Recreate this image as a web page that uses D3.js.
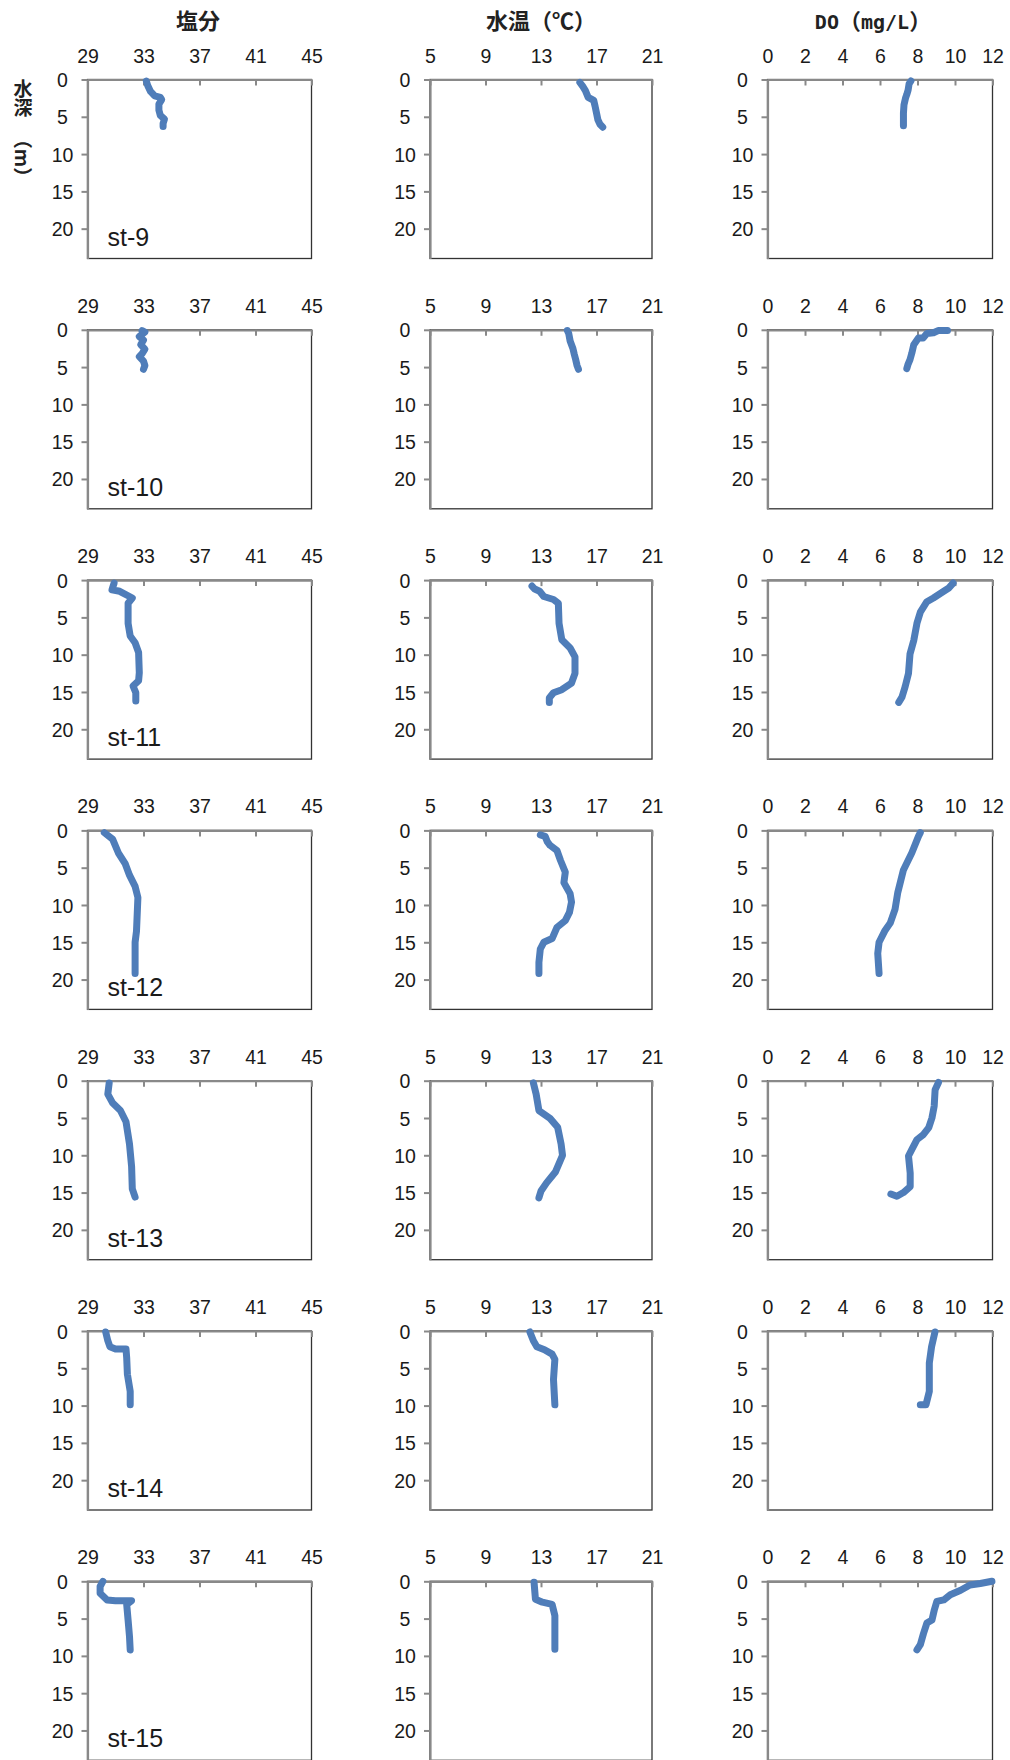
<!DOCTYPE html>
<html>
<head>
<meta charset="utf-8">
<script src="https://cdn.jsdelivr.net/npm/d3@7"></script>
<style>
  body { margin: 0; background: #fff; }
  text { font-family: "Liberation Sans", Arial, sans-serif; }
  .title { font-family: "Noto Sans CJK JP", sans-serif; font-weight: bold; }
  .mono { font-family: "DejaVu Sans Mono", monospace; font-weight: bold; }
</style>
</head>
<body>
<div class="container"></div>
<script>
// station names, one per row
const stations = ["st-9", "st-10", "st-11", "st-12", "st-13", "st-14", "st-15"];

// axis ticks
const salTicks = [29, 33, 37, 41, 45];
const tempTicks = [5, 9, 13, 17, 21];
const doTicks = [0, 2, 4, 6, 8, 10, 12];
const depthTicks = [0, 5, 10, 15, 20];

// [value, depth(m)]
const sal9 = [[33.2,0.2],[33.3,0.8],[33.5,1.6],[33.8,2.2],[34.2,2.4],[34.3,2.7],[34.1,3.3],[34.1,4.1],[34.2,4.8],[34.5,5.3],[34.4,5.9],[34.4,6.3]];
const temp9 = [[15.8,0.4],[16.0,0.9],[16.2,1.5],[16.4,2.4],[16.8,2.8],[16.9,3.6],[17.0,4.5],[17.1,5.4],[17.25,6.0],[17.45,6.4]];
const do9 = [[7.65,0.2],[7.55,0.6],[7.5,1.4],[7.43,2.0],[7.36,2.5],[7.28,3.4],[7.25,4.5],[7.25,5.4],[7.25,6.2]];

const sal10 = [[32.9,0.1],[33.1,0.3],[32.7,0.9],[33.0,1.4],[32.8,2.0],[33.1,2.6],[32.9,3.2],[32.7,3.6],[33.0,4.2],[33.1,4.8],[33.0,5.3]];
const temp10 = [[14.9,0.1],[15.0,0.5],[15.1,1.5],[15.3,2.5],[15.4,3.3],[15.5,4.0],[15.6,4.8],[15.7,5.3]];
const do10 = [[9.6,0.1],[9.1,0.1],[8.85,0.4],[8.5,0.5],[8.3,1.1],[8.05,1.1],[7.8,2.0],[7.7,3.1],[7.6,4.0],[7.5,4.6],[7.43,5.2]];

const sal11 = [[30.9,0.4],[30.75,1.3],[31.3,1.5],[32.0,2.2],[32.2,2.4],[31.9,3.1],[31.9,5.8],[32.05,7.5],[32.4,8.4],[32.65,9.7],[32.7,12.4],[32.65,13.5],[32.25,14.2],[32.45,15.1],[32.45,16.2]];
const temp11 = [[12.35,0.8],[12.55,1.2],[12.9,1.5],[13.2,2.2],[13.9,2.6],[14.25,3.1],[14.3,5.8],[14.5,8.0],[15.1,9.1],[15.45,10.3],[15.45,12.5],[15.2,13.8],[14.5,14.7],[13.9,15.1],[13.6,15.8],[13.6,16.4]];
const do11 = [[9.9,0.4],[9.65,1.1],[9.4,1.5],[8.85,2.4],[8.5,2.9],[8.15,4.3],[7.97,5.8],[7.8,8.1],[7.6,9.9],[7.52,12.5],[7.34,14.3],[7.17,15.7],[7.0,16.4]];

const sal12 = [[30.2,0.3],[30.8,1.2],[31.2,3.0],[31.7,4.5],[32.0,6.0],[32.4,7.5],[32.6,9.0],[32.5,13.5],[32.4,15.0],[32.4,19.2]];
const temp12 = [[12.95,0.6],[13.3,0.8],[13.45,1.5],[13.65,2.0],[14.15,2.7],[14.4,4.0],[14.75,5.6],[14.65,7.0],[15.1,8.5],[15.2,9.6],[15.05,11.0],[14.75,12.1],[14.15,13.0],[13.8,14.5],[13.2,15.0],[12.95,15.9],[12.85,17.7],[12.85,19.2]];
const do12 = [[8.15,0.3],[8.05,0.8],[7.7,3.0],[7.25,5.3],[6.95,8.3],[6.8,10.6],[6.55,12.4],[6.25,13.5],[5.95,15.0],[5.88,16.5],[5.95,19.2]];

const sal13 = [[30.55,0.3],[30.45,1.8],[30.8,3.0],[31.35,4.0],[31.75,5.5],[32.0,8.5],[32.15,11.5],[32.2,14.5],[32.4,15.6]];
const temp13 = [[12.45,0.3],[12.65,1.8],[12.85,4.0],[13.65,5.05],[14.2,6.25],[14.45,8.5],[14.55,10.0],[14.05,12.2],[13.4,13.7],[13.0,14.8],[12.85,15.7]];
const do13 = [[9.12,0.24],[8.94,1.2],[8.89,3.4],[8.77,5.0],[8.6,6.3],[8.32,7.2],[7.97,7.9],[7.7,9.2],[7.52,10.1],[7.61,12.4],[7.61,14.2],[7.25,15.0],[6.9,15.5],[6.58,15.2]];

const sal14 = [[30.3,0.13],[30.45,1.3],[30.6,2.1],[31.0,2.4],[31.75,2.4],[31.8,3.6],[31.85,5.8],[32.05,8.1],[32.05,9.9]];
const temp14 = [[12.2,0.13],[12.45,1.3],[12.7,2.1],[13.25,2.5],[13.8,3.1],[14.0,3.8],[13.9,6.5],[14.0,9.9]];
const do14 = [[8.93,0.13],[8.75,2.1],[8.63,4.3],[8.63,8.1],[8.45,9.9],[8.15,9.9]];

const sal15 = [[30.1,0.0],[29.9,0.7],[29.9,1.6],[30.4,2.5],[31.0,2.6],[32.15,2.6],[31.8,3.1],[31.9,5.2],[32.0,7.4],[32.05,9.2]];
const temp15 = [[12.5,0.14],[12.6,2.4],[13.1,2.8],[13.8,3.1],[14.0,4.6],[14.0,9.1]];
const do15 = [[11.97,0.0],[11.35,0.3],[10.8,0.5],[10.3,1.2],[9.75,1.8],[9.4,2.5],[9.03,2.7],[8.9,3.8],[8.77,5.2],[8.5,5.6],[8.32,7.0],[8.15,8.5],[7.97,9.2]];

const salData = [sal9, sal10, sal11, sal12, sal13, sal14, sal15];
const tempData = [temp9, temp10, temp11, temp12, temp13, temp14, temp15];
const doData = [do9, do10, do11, do12, do13, do14, do15];

const width = 1010;
const height = 1760;
const plotH = 179;
const rowTop = 79.5;
const rowStep = 250.3;

const columns = [
    { x: 87.5, w: 224, ticks: salTicks, data: salData },
    { x: 430, w: 222, ticks: tempTicks, data: tempData },
    { x: 767.5, w: 225, ticks: doTicks, data: doData }
];

let svg = d3.select(".container")
    .append("svg")
    .attr("width", width)
    .attr("height", height)
    .attr("viewBox", [0, 0, width, height])

// column titles
const titleY = 28.5
svg.append("text")
    .attr("class", "title")
    .attr("x", 198)
    .attr("y", titleY)
    .attr("text-anchor", "middle")
    .attr("font-size", 22)
    .attr("fill", "#222")
    .text("塩分")

svg.append("text")
    .attr("class", "title")
    .attr("x", 541)
    .attr("y", titleY)
    .attr("text-anchor", "middle")
    .attr("font-size", 22)
    .attr("fill", "#222")
    .text("水温（℃）")

let doTitle = svg.append("text")
    .attr("class", "title")
    .attr("x", 873)
    .attr("y", titleY)
    .attr("text-anchor", "middle")
    .attr("font-size", 22)
    .attr("fill", "#222")
doTitle.append("tspan").attr("class", "mono").attr("font-size", 20).text("DO")
doTitle.append("tspan").text("（")
doTitle.append("tspan").attr("class", "mono").attr("font-size", 20).text("mg/L")
doTitle.append("tspan").text("）")

// y axis title: 水深 stacked, （m） turned sideways
svg.append("text")
    .attr("class", "title")
    .attr("x", 23)
    .attr("y", 79)
    .attr("font-size", 19)
    .attr("fill", "#222")
    .style("writing-mode", "vertical-rl")
    .text("水深")

svg.append("text")
    .attr("class", "title")
    .attr("transform", "translate(23, 158) rotate(90)")
    .attr("text-anchor", "middle")
    .attr("dominant-baseline", "central")
    .attr("font-size", 19)
    .attr("fill", "#222")
    .text("（m）")

const line = (x, y) => d3.line().x(d => x(d[0])).y(d => y(d[1]))

stations.forEach((st, i) => {
    let top = rowTop + i * rowStep

    let yScale = d3.scaleLinear()
        .domain([0, 24])
        .range([top, top + plotH])

    columns.forEach(c => {
        let xScale = d3.scaleLinear()
            .domain(d3.extent(c.ticks))
            .range([c.x, c.x + c.w])

        let g = svg.append("g")

        // plot area frame (right + bottom darker)
        g.append("rect")
            .attr("x", c.x)
            .attr("y", top)
            .attr("width", c.w)
            .attr("height", plotH)
            .attr("fill", "none")
            .attr("stroke", "#333")
            .attr("stroke-width", 1.3)

        // top axis, ticks inward
        let xAxis = g.append("g")
            .attr("transform", `translate(0, ${top})`)
            .call(d3.axisTop(xScale).tickValues(c.ticks).tickSizeInner(-6).tickSizeOuter(0).tickPadding(17))
        xAxis.select(".domain").attr("stroke", "#898989").attr("stroke-width", 2.2)
        xAxis.selectAll(".tick line").attr("stroke", "#898989").attr("stroke-width", 2)
        xAxis.selectAll(".tick text")
            .attr("font-size", 19.5)
            .attr("font-family", "Liberation Sans, Arial, sans-serif")
            .attr("fill", "#1a1a1a")

        // left axis, ticks outward
        let yAxis = g.append("g")
            .attr("transform", `translate(${c.x}, 0)`)
            .call(d3.axisLeft(yScale).tickValues(depthTicks).tickSizeInner(6).tickSizeOuter(0).tickPadding(0))
        yAxis.select(".domain").attr("stroke", "#898989").attr("stroke-width", 2.2)
        yAxis.selectAll(".tick line").attr("stroke", "#898989").attr("stroke-width", 2)
        yAxis.selectAll(".tick text")
            .attr("x", -25)
            .attr("dy", "0.36em")
            .attr("text-anchor", "middle")
            .attr("font-size", 19.5)
            .attr("font-family", "Liberation Sans, Arial, sans-serif")
            .attr("fill", "#1a1a1a")

        // profile
        g.append("path")
            .datum(c.data[i])
            .attr("d", line(xScale, yScale))
            .attr("fill", "none")
            .attr("stroke", "#4f7db9")
            .attr("stroke-width", 7)
            .attr("stroke-linejoin", "round")
            .attr("stroke-linecap", "round")
    })

    // station label
    svg.append("text")
        .attr("x", columns[0].x + 20)
        .attr("y", top + 166)
        .attr("font-size", 25)
        .attr("fill", "#1a1a1a")
        .text(st)
})

svg.node()
</script>
</body>
</html>
